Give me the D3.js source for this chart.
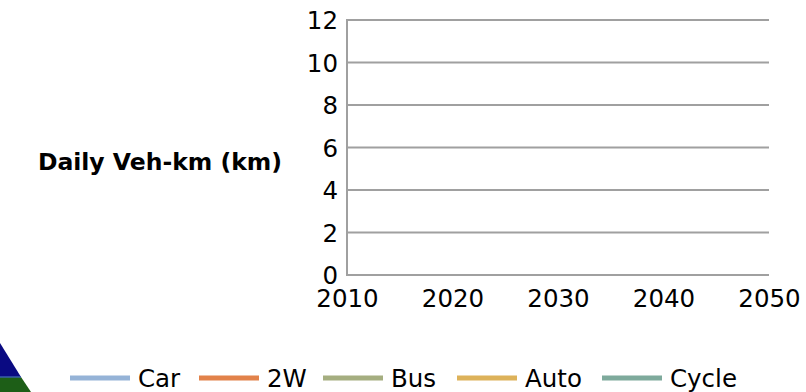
<!DOCTYPE html>
<html>
<head>
<meta charset="utf-8">
<script src="https://cdn.jsdelivr.net/npm/d3@7"></script>
<style>
  body { margin: 0; background: #fff; }
  svg { display: block; font-family: "DejaVu Sans", sans-serif; }
  .grid line { stroke: #a0a0a0; stroke-width: 2; }
</style>
</head>
<body>
<div id="chart"></div>
<script>
// chart data: the source chart has no plotted values, only the frame
var yearTicks = [2010, 2020, 2030, 2040, 2050]
var valueTicks = [0, 2, 4, 6, 8, 10, 12]
var seriesNames = ["Car", "2W", "Bus", "Auto", "Cycle"]
var seriesColors = ["#95b3d7", "#e2824a", "#a5ae80", "#ddb25a", "#7eaa9c"]
var carValues = []
var twoWheelerValues = []
var busValues = []
var autoValues = []
var cycleValues = []

var width = 806
var height = 392
var margin = { top: 20, right: 37, bottom: 117, left: 347 }
var fontSize = 24.5

var svg = d3.select("#chart").append("svg")
    .attr("width", width)
    .attr("height", height)

// corner decoration from the slide
svg.append("polygon")
    .attr("points", "0,343 0,377 21,377")
    .attr("fill", "#0a0a82")
svg.append("polygon")
    .attr("points", "0,377 21,377 31,392 0,392")
    .attr("fill", "#1d5e17")
svg.append("line")
    .attr("x1", 0).attr("x2", 21).attr("y1", 377).attr("y2", 377)
    .attr("stroke", "#3a5fa8").attr("stroke-width", 1.5)

var x = d3.scaleLinear()
    .domain([yearTicks[0], yearTicks[yearTicks.length - 1]])
    .range([margin.left, width - margin.right])

var y = d3.scaleLinear()
    .domain([valueTicks[0], valueTicks[valueTicks.length - 1]])
    .range([height - margin.bottom, margin.top])

var grid = svg.append("g").attr("class", "grid")
grid.selectAll("line.h")
    .data(valueTicks)
    .enter().append("line")
    .attr("class", "h")
    .attr("x1", margin.left)
    .attr("x2", width - margin.right)
    .attr("y1", d => y(d))
    .attr("y2", d => y(d))
grid.append("line")
    .attr("x1", margin.left).attr("x2", margin.left)
    .attr("y1", y(valueTicks[valueTicks.length - 1]) - 1)
    .attr("y2", y(0) + 1)

var yAxis = svg.append("g")
    .attr("transform", "translate(" + (margin.left - 9) + ",0)")
    .call(d3.axisLeft(y).tickValues(valueTicks).tickSize(0).tickPadding(0))
yAxis.select(".domain").remove()
yAxis.selectAll("text")
    .attr("font-size", fontSize)
    .attr("font-family", "DejaVu Sans")
    .attr("fill", "#000")
    .attr("dy", "0.35em")

var xAxis = svg.append("g")
    .attr("transform", "translate(0," + (y(0) + 9) + ")")
    .call(d3.axisBottom(x).tickValues(yearTicks).tickFormat(d3.format("d")).tickSize(0).tickPadding(0))
xAxis.select(".domain").remove()
xAxis.selectAll("text")
    .attr("font-size", fontSize)
    .attr("font-family", "DejaVu Sans")
    .attr("fill", "#000")
    .attr("dy", "0.95em")

svg.append("text")
    .attr("x", 160)
    .attr("y", 162)
    .attr("text-anchor", "middle")
    .attr("dy", "0.35em")
    .attr("font-size", 23.5)
    .attr("font-weight", "bold")
    .text("Daily Veh-km (km)")

// series lines (empty in the source)
var seriesValues = [carValues, twoWheelerValues, busValues, autoValues, cycleValues]
var line = d3.line().x(d => x(d[0])).y(d => y(d[1]))
svg.selectAll("path.series")
    .data(seriesValues)
    .enter().append("path")
    .attr("class", "series")
    .attr("fill", "none")
    .attr("stroke", (d, i) => seriesColors[i])
    .attr("stroke-width", 5)
    .attr("d", d => d.length ? line(d) : null)

// legend
var legendX = [70, 199, 323, 457, 602]
var legend = svg.append("g")
var items = legend.selectAll("g")
    .data(seriesNames)
    .enter().append("g")
    .attr("transform", (d, i) => "translate(" + legendX[i] + ",378)")
items.append("line")
    .attr("x1", 0).attr("x2", 60)
    .attr("stroke", (d, i) => seriesColors[i])
    .attr("stroke-width", 5)
items.append("text")
    .attr("x", 68)
    .attr("dy", "0.35em")
    .attr("font-size", fontSize)
    .text(d => d)
</script>
</body>
</html>
